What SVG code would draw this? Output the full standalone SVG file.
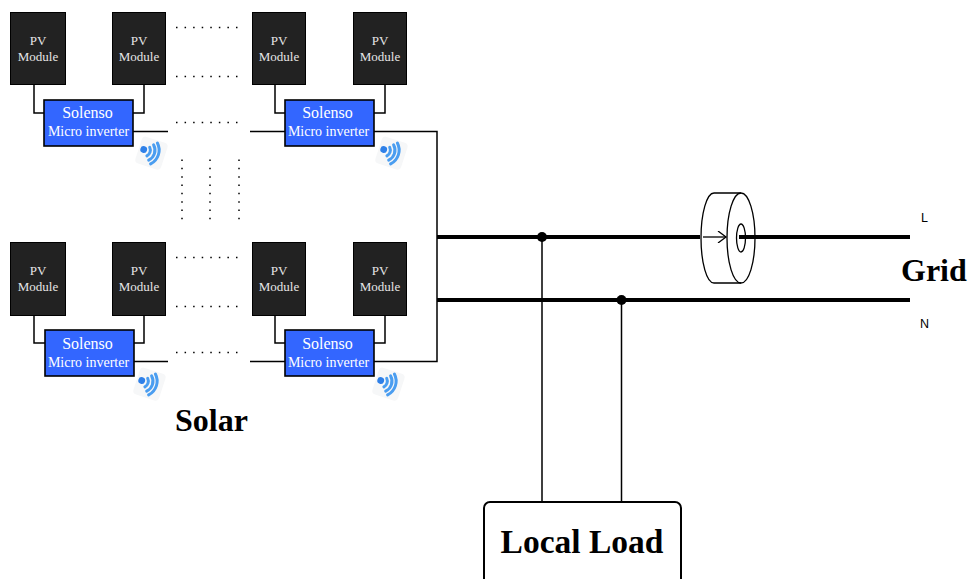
<svg xmlns="http://www.w3.org/2000/svg" width="970" height="579" viewBox="0 0 970 579">
<style>
.pv{fill:#222;stroke:#000;stroke-width:1}
.inv{fill:#36f;stroke:#000;stroke-width:1.600}
.t{font-family:"Liberation Serif","Times New Roman",serif;text-anchor:middle}
.pt{font-size:13px;fill:#e6e6e6}
.it{fill:#fff}
.w{fill:none;stroke:#000;stroke-width:1.500}
.thin{fill:none;stroke:#000;stroke-width:1.500}
.thick{fill:none;stroke:#000;stroke-width:4}
.dots{fill:none;stroke:#000;stroke-width:1.500;stroke-dasharray:1.500 7.070}
.vd{fill:none;stroke:#000;stroke-width:1.500;stroke-dasharray:1.500 6.830}
.b{font-family:"Liberation Serif","Times New Roman",serif;font-weight:bold;fill:#000}
.s{font-family:"Liberation Sans",Arial,sans-serif;font-size:12.500px;fill:#000}
.arc{fill:none;stroke:#4a9df0;stroke-width:3;stroke-linecap:round}
</style>
<defs>
<g id="wifi">
<g transform="rotate(18)">
<rect x="-13" y="-14" width="27" height="28" rx="4" fill="#f6f7f8"/>
<circle cx="-8" cy="-1" r="3.400" fill="#2f80e8"/>
<path class="arc" d="M-3,-5A6.500,6.500 0 0 1 -3,4"/>
<path class="arc" d="M0,-8.500A11,11 0 0 1 0,7.500"/>
<path class="arc" d="M3,-11.500A15.500,15.500 0 0 1 3,10.500"/>
</g>
</g>
<marker id="ah" markerWidth="12" markerHeight="12" refX="10" refY="6" orient="auto" markerUnits="userSpaceOnUse"><path d="M2,0L10,6L2,12" fill="none" stroke="#000" stroke-width="1.300"/></marker>
</defs>

<g id="connectors">
<path class="w" d="M34,85V113H44M144,85V113H133"/>
<path class="w" d="M275,85V113H285M385,85V113H374"/>
<path class="w" d="M34,316V343H45M144,316V343H134"/>
<path class="w" d="M275,316V343H285M385,316V343H374"/>
<path class="thin" d="M133,131.500H168M250,131.500H285M374,131.500H437V361.500H374"/>
<path class="thin" d="M134,361.500H168M250,361.500H285"/>
<path class="thin" d="M542,237V502M621.500,300V502"/>
<path class="thick" d="M437,237H700M739,237H910M437,300H910"/>
<circle cx="542" cy="237" r="5" fill="#000"/>
<circle cx="621.500" cy="300" r="5" fill="#000"/>
<path class="dots" d="M176,27.500H238M176,76.500H238M176,122.500H238M176,257.500H238M176,306.500H238M176,352.500H238"/>
<path class="vd" d="M182,159.500V220M210,159.500V220M239,159.500V220"/>
</g>

<g id="pv1"><rect class="pv" x="10.500" y="12.500" width="55" height="72"/><text class="t pt" x="38" y="45">PV</text><text class="t pt" x="38" y="61">Module</text></g>
<g id="pv2"><rect class="pv" x="112.500" y="12.500" width="53" height="72"/><text class="t pt" x="139" y="45">PV</text><text class="t pt" x="139" y="61">Module</text></g>
<g id="pv3"><rect class="pv" x="252.500" y="12.500" width="53" height="72"/><text class="t pt" x="279" y="45">PV</text><text class="t pt" x="279" y="61">Module</text></g>
<g id="pv4"><rect class="pv" x="353.500" y="12.500" width="53" height="72"/><text class="t pt" x="380" y="45">PV</text><text class="t pt" x="380" y="61">Module</text></g>
<g id="pv5"><rect class="pv" x="10.500" y="242.500" width="55" height="73"/><text class="t pt" x="38" y="275">PV</text><text class="t pt" x="38" y="291">Module</text></g>
<g id="pv6"><rect class="pv" x="112.500" y="242.500" width="53" height="73"/><text class="t pt" x="139" y="275">PV</text><text class="t pt" x="139" y="291">Module</text></g>
<g id="pv7"><rect class="pv" x="252.500" y="242.500" width="53" height="73"/><text class="t pt" x="279" y="275">PV</text><text class="t pt" x="279" y="291">Module</text></g>
<g id="pv8"><rect class="pv" x="353.500" y="242.500" width="53" height="73"/><text class="t pt" x="380" y="275">PV</text><text class="t pt" x="380" y="291">Module</text></g>

<g id="inv1"><rect class="inv" x="44" y="100" width="89" height="46"/><text class="t it" x="87.500" y="118" font-size="16">Solenso</text><text class="t it" x="88.500" y="136" font-size="14">Micro inverter</text></g>
<g id="inv2"><rect class="inv" x="285" y="100" width="89" height="46"/><text class="t it" x="327.500" y="118" font-size="16">Solenso</text><text class="t it" x="328.500" y="136" font-size="14">Micro inverter</text></g>
<g id="inv3"><rect class="inv" x="45" y="330" width="89" height="46"/><text class="t it" x="87.500" y="349" font-size="16">Solenso</text><text class="t it" x="88.500" y="367" font-size="14">Micro inverter</text></g>
<g id="inv4"><rect class="inv" x="285" y="330" width="89" height="46"/><text class="t it" x="327.500" y="349" font-size="16">Solenso</text><text class="t it" x="328.500" y="367" font-size="14">Micro inverter</text></g>

<use id="wifi1" href="#wifi" x="151" y="153"/>
<use id="wifi2" href="#wifi" x="391" y="153"/>
<use id="wifi3" href="#wifi" x="149" y="384"/>
<use id="wifi4" href="#wifi" x="388" y="384"/>

<g id="ct" fill="none" stroke="#000" stroke-width="1.300">
<path d="M741,193H714A13,45 0 0 0 714,283H741"/>
<ellipse cx="741" cy="238" rx="14" ry="45"/>
<ellipse cx="741" cy="238" rx="4.500" ry="14"/>
<path d="M703,237H726" marker-end="url(#ah)"/>
</g>

<g id="load"><path d="M484,579V508a6,6 0 0 1 6,-6H675a6,6 0 0 1 6,6V579" fill="#fff" stroke="#000" stroke-width="2"/><text class="b" x="582" y="553" font-size="33.500" text-anchor="middle">Local Load</text></g>
<g id="labels">
<text class="b" x="175" y="431" font-size="32">Solar</text>
<text class="b" x="901" y="281" font-size="32">Grid</text>
<text class="s" x="921" y="222">L</text>
<text class="s" x="920" y="328">N</text>
</g>
</svg>
